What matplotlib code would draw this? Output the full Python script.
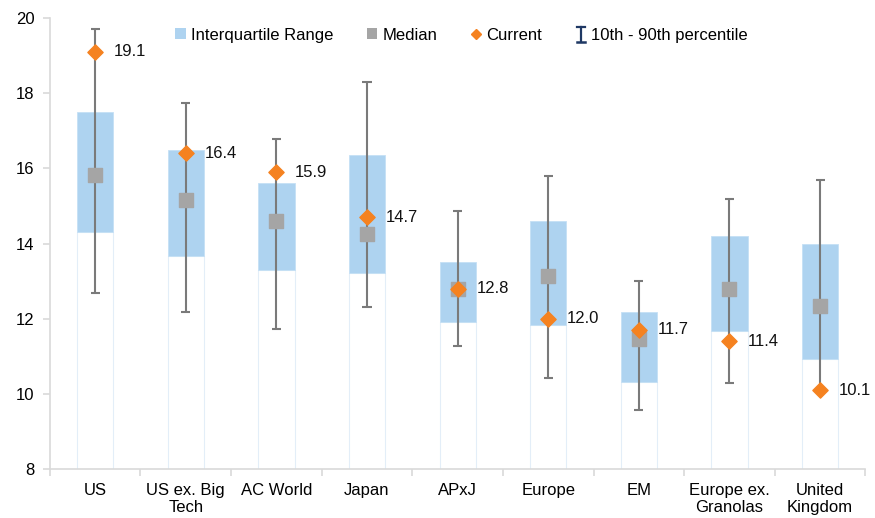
import matplotlib
matplotlib.use("Agg")
import matplotlib.pyplot as plt
from matplotlib.lines import Line2D
from matplotlib.patches import Patch
from matplotlib.legend_handler import HandlerBase
import numpy as np

plt.rcParams['font.family'] = ['Liberation Sans', 'DejaVu Sans']

categories = ["US", "US ex. Big\nTech", "AC World", "Japan", "APxJ", "Europe", "EM",
              "Europe ex.\nGranolas", "United\nKingdom"]
q25 = [14.31, 13.67, 13.30, 13.22, 11.91, 11.84, 10.32, 11.68, 10.93]
q75 = [17.50, 16.49, 15.61, 16.36, 13.51, 14.60, 12.18, 14.20, 13.99]
median = [15.82, 15.16, 14.60, 14.26, 12.79, 13.14, 11.46, 12.79, 12.34]
p10 = [12.69, 12.18, 11.73, 12.31, 11.28, 10.43, 9.57, 10.29, 10.10]
p90 = [19.71, 17.74, 16.78, 18.30, 14.87, 15.80, 13.00, 15.19, 15.69]
current = [19.1, 16.4, 15.9, 14.7, 12.8, 12.0, 11.7, 11.4, 10.1]
yticks = [8, 10, 12, 14, 16, 18, 20]


class IBeamHandler(HandlerBase):
    def create_artists(self, legend, orig_handle, xdescent, ydescent, width, height, fontsize, trans):
        cx = width / 2 - xdescent
        y0 = -ydescent - height * 0.25
        y1 = -ydescent + height * 1.15
        c = '#1F3864'
        arts = [
            Line2D([cx, cx], [y0, y1], color=c, lw=1.6, transform=trans),
            Line2D([cx - width * 0.35, cx + width * 0.35], [y0, y0], color=c, lw=1.8, transform=trans),
            Line2D([cx - width * 0.35, cx + width * 0.35], [y1, y1], color=c, lw=1.6, transform=trans),
        ]
        return arts


fig = plt.figure(figsize=(8.75, 5.18), dpi=100)
ax = fig.add_axes([0.057, 0.0946, 0.932, 0.8706])

x = np.arange(len(categories))
ymin = 8
q25a = np.array(q25); q75a = np.array(q75)
w = 0.4
ax.bar(x, q25a - ymin, bottom=ymin, width=w, color='white', edgecolor='#E3EEF8', linewidth=0.8, zorder=1)
ax.bar(x, q75a - q25a, bottom=q25a, width=w, color='#AED3F0', edgecolor='#C5E0F5', linewidth=0.6, zorder=2)
ax.vlines(x, p10, p90, color='#7A7A7A', linewidth=1.5, zorder=3)
ax.hlines(p10, x - 0.05, x + 0.05, color='#7A7A7A', linewidth=1.5, zorder=3)
ax.hlines(p90, x - 0.05, x + 0.05, color='#7A7A7A', linewidth=1.5, zorder=3)
ax.scatter(x, median, marker='s', s=95, color='#A5A5A5', zorder=4)
ax.scatter(x, current, marker='D', s=60, color='#F58220', zorder=5)
for xi, c in zip(x, current):
    ax.annotate(f"{c:.1f}", (xi, c), xytext=(13.5, 0), textcoords='offset points',
                va='center', ha='left', fontsize=12, color='#111111')

ax.set_ylim(8, 20)
ax.set_xlim(-0.5, len(categories) - 0.5)
ax.set_yticks(yticks)
ax.set_yticklabels([str(t) for t in yticks], fontsize=12)
ax.set_xticks(x)
ax.set_xticklabels(categories, fontsize=12, linespacing=1.15)
ax.set_xticks(np.arange(len(categories) + 1) - 0.5, minor=True)
ax.tick_params(axis='x', which='major', length=0, pad=10)
ax.tick_params(axis='x', which='minor', length=5, color='#D9D9D9', width=1.2)
ax.tick_params(axis='y', length=5, color='#D9D9D9', width=1.2, pad=6)
for s in ['top', 'right']:
    ax.spines[s].set_visible(False)
for s in ['left', 'bottom']:
    ax.spines[s].set_color('#D9D9D9')
    ax.spines[s].set_linewidth(1.2)

ibeam = object()
handles = [
    Patch(facecolor='#AED3F0', edgecolor='none'),
    Patch(facecolor='#A5A5A5', edgecolor='none'),
    Line2D([], [], marker='D', color='#F58220', linestyle='none', markersize=5.5),
    ibeam,
]
labels = ["Interquartile Range", "Median", "Current", "10th - 90th percentile"]
leg = ax.legend(handles, labels, loc='upper left', bbox_to_anchor=(0.135, 1.012), ncol=4,
                frameon=False, fontsize=12, handlelength=0.65, handletextpad=0.3,
                columnspacing=2.0, handleheight=0.65,
                handler_map={ibeam: IBeamHandler()})

fig.savefig("out.png", dpi=100)
